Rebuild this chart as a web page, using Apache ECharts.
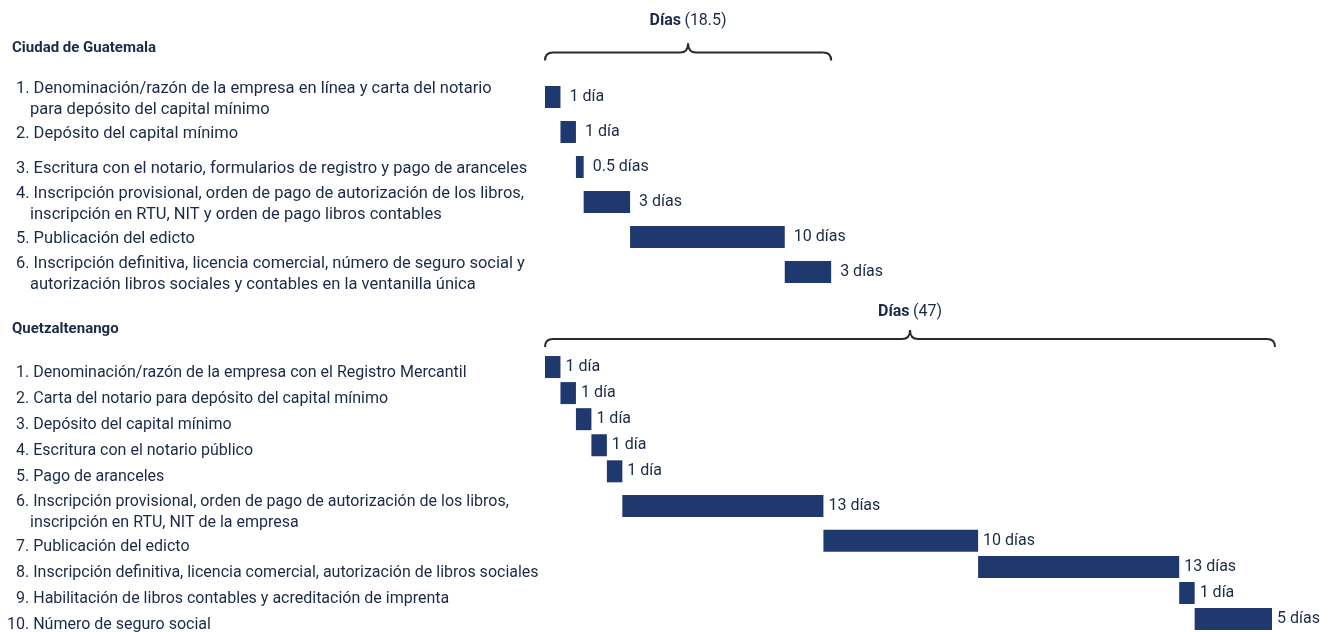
<!DOCTYPE html>
<html>
<head>
<meta charset="utf-8">
<script src="https://cdn.jsdelivr.net/npm/echarts@6/dist/echarts.min.js"></script>
<style>
html,body{margin:0;padding:0;background:#fff;}
#chart{width:1333px;height:632px;}
</style>
</head>
<body>
<div id="chart"></div>
<script>
// ---------- DATA ----------
const groupTitles = ['Ciudad de Guatemala', 'Quetzaltenango'];

const gtLabels = [
  'Denominación/razón de la empresa en línea y carta del notario\npara depósito del capital mínimo',
  'Depósito del capital mínimo',
  'Escritura con el notario, formularios de registro y pago de aranceles',
  'Inscripción provisional, orden de pago de autorización de los libros,\ninscripción en RTU, NIT y orden de pago libros contables',
  'Publicación del edicto',
  'Inscripción definitiva, licencia comercial, número de seguro social y\nautorización libros sociales y contables en la ventanilla única'
];
const gtDays = [1, 1, 0.5, 3, 10, 3];

const qzLabels = [
  'Denominación/razón de la empresa con el Registro Mercantil',
  'Carta del notario para depósito del capital mínimo',
  'Depósito del capital mínimo',
  'Escritura con el notario público',
  'Pago de aranceles',
  'Inscripción provisional, orden de pago de autorización de los libros,\ninscripción en RTU, NIT de la empresa',
  'Publicación del edicto',
  'Inscripción definitiva, licencia comercial, autorización de libros sociales',
  'Habilitación de libros contables y acreditación de imprenta',
  'Número de seguro social'
];
const qzDays = [1, 1, 1, 1, 1, 13, 10, 13, 1, 5];

const axisLabelWord = 'Días';
const unitOne = 'día';
const unitMany = 'días';

// ---------- STYLE ----------
const FONT = 'Roboto';
const FS = 16;
const TEXT = '#1b2a47';
const BAR = '#1f386d';
const BRACE = '#2a2a2a';
const SCALE_MAX = Math.max(gtDays.reduce((a,b)=>a+b,0), qzDays.reduce((a,b)=>a+b,0));

// Build slot rows: each step occupies `per` slots (label on middle),
// optional spacer slot before/after multi-line labels.
function buildRows(labels, days, per, spacer) {
  const slots = [];
  const base = [], vals = [];
  let cum = 0;
  labels.forEach((lab, i) => {
    const multi = lab.indexOf('\n') >= 0;
    if (spacer && multi) slots.push(null);
    const mid = Math.floor(per / 2);
    for (let k = 0; k < per; k++) {
      slots.push(k === mid ? { label: lab, idx: i, start: cum, d: days[i] } : null);
    }
    if (spacer && multi) slots.push(null);
    cum += days[i];
  });
  slots.forEach(s => {
    base.push(s ? s.start : '-');
    vals.push(s ? s.d : '-');
  });
  return { slots, base, vals, total: cum };
}

const gt = buildRows(gtLabels, gtDays, 1, false);
const qz = buildRows(qzLabels, qzDays, 3, true);

function richLabel(slot) {
  if (!slot) return '';
  const lines = slot.label.split('\n');
  const num = String(slot.idx + 1);
  let s = '{' + (num.length === 1 ? 'n1' : 'n2') + '|' + num + '.}{t|' + lines[0] + '}';
  for (let i = 1; i < lines.length; i++) s += '\n{c|' + lines[i] + '}';
  return s;
}

function makeRich(fs) {
  const b = { fontFamily: FONT, fontSize: fs, color: TEXT, lineHeight: 21 };
  return {
    n1: Object.assign({ padding: [0, 0, 0, Math.round(fs * 0.56) + 2] }, b),
    n2: Object.assign({ padding: [0, 0, 0, 2] }, b),
    t: Object.assign({ padding: [0, 0, 0, 4] }, b),
    c: Object.assign({ padding: [0, 0, 0, 25] }, b)
  };
}

const GRID_LEFT = 545, GRID_W = 727, LABEL_X = 5;

function yAxisFor(rows, gi, pad, fs) {
  return {
    type: 'category', gridIndex: gi, inverse: true,
    data: rows.slots.map((s, i) => 's' + i),
    axisLine: { show: false }, axisTick: { show: false }, splitLine: { show: false },
    axisLabel: {
      interval: 0, align: 'left', margin: GRID_LEFT - LABEL_X,
      padding: [pad, 0, 0, 0],
      formatter: (v, i) => richLabel(rows.slots[i]),
      rich: makeRich(fs)
    }
  };
}

function seriesFor(rows, gi, dist) {
  return [
    { type: 'bar', xAxisIndex: gi, yAxisIndex: gi, stack: 'g' + gi, data: rows.base,
      itemStyle: { color: 'transparent' }, barWidth: 22, silent: true },
    { type: 'bar', xAxisIndex: gi, yAxisIndex: gi, stack: 'g' + gi, data: rows.vals,
      itemStyle: { color: BAR }, barWidth: 22,
      label: { show: true, position: 'right', distance: dist, fontFamily: FONT, fontSize: FS, color: TEXT,
        formatter: p => p.value + ' ' + (p.value === 1 ? unitOne : unitMany) } }
  ];
}

const chart = echarts.init(document.getElementById('chart'), null, { renderer: 'canvas' });
const SLOT_Q = 8.69;
const option = {
  animation: false,
  backgroundColor: '#fff',
  grid: [
    { left: GRID_LEFT, width: GRID_W, top: 79.5, height: 35 * gt.slots.length, outerBoundsMode: 'none', containLabel: false },
    { left: GRID_LEFT, width: GRID_W, top: 354, height: SLOT_Q * qz.slots.length, outerBoundsMode: 'none', containLabel: false }
  ],
  xAxis: [
    { type: 'value', gridIndex: 0, min: 0, max: SCALE_MAX, show: false },
    { type: 'value', gridIndex: 1, min: 0, max: SCALE_MAX, show: false }
  ],
  yAxis: [yAxisFor(gt, 0, 4, 16.5), yAxisFor(qz, 1, 12, 16)],
  series: seriesFor(gt, 0, 9).concat(seriesFor(qz, 1, 5))
};
chart.setOption(option);

// ---------- braces & headers ----------
function brace(x0, x1, yLine, yTip, yEnd) {
  const xm = (x0 + x1) / 2, r = 8;
  const st = { stroke: BRACE, lineWidth: 2, fill: null };
  return [
    { type: 'bezierCurve', shape: { x1: x0, y1: yEnd, x2: x0 + r, y2: yLine, cpx1: x0, cpy1: yLine }, style: st },
    { type: 'line', shape: { x1: x0 + r, y1: yLine, x2: xm - r, y2: yLine }, style: st },
    { type: 'bezierCurve', shape: { x1: xm - r, y1: yLine, x2: xm, y2: yTip, cpx1: xm, cpy1: yLine }, style: st },
    { type: 'bezierCurve', shape: { x1: xm, y1: yTip, x2: xm + r, y2: yLine, cpx1: xm, cpy1: yLine }, style: st },
    { type: 'line', shape: { x1: xm + r, y1: yLine, x2: x1 - r, y2: yLine }, style: st },
    { type: 'bezierCurve', shape: { x1: x1 - r, y1: yLine, x2: x1, y2: yEnd, cpx1: x1, cpy1: yLine }, style: st }
  ];
}
function braceTitle(xm, y, total) {
  return {
    type: 'text', x: xm, y: y,
    style: {
      text: '{b|' + axisLabelWord + '} {r|(' + total + ')}',
      rich: {
        b: { fontFamily: FONT, fontSize: FS, fontWeight: 'bold', fill: TEXT },
        r: { fontFamily: FONT, fontSize: FS, fill: TEXT }
      },
      align: 'center', verticalAlign: 'middle'
    }
  };
}
const gx0 = chart.convertToPixel({ xAxisIndex: 0 }, 0);
const gx1 = chart.convertToPixel({ xAxisIndex: 0 }, gt.total);
const qx0 = chart.convertToPixel({ xAxisIndex: 1 }, 0);
const qx1 = chart.convertToPixel({ xAxisIndex: 1 }, qz.total);

const els = []
  .concat(brace(gx0, gx1, 52.5, 43.5, 60.5))
  .concat(brace(qx0, qx1 + 3, 339, 330, 347))
  .concat([
    braceTitle((gx0 + gx1) / 2, 21, gt.total),
    braceTitle((qx0 + qx1 + 3) / 2, 312, qz.total),
    { type: 'text', x: 12, y: 48, style: { text: groupTitles[0], fontFamily: FONT, fontSize: 15, fontWeight: 'bold', fill: TEXT, verticalAlign: 'middle' } },
    { type: 'text', x: 12, y: 329, style: { text: groupTitles[1], fontFamily: FONT, fontSize: 15, fontWeight: 'bold', fill: TEXT, verticalAlign: 'middle' } }
  ]);
chart.setOption({ graphic: { elements: els } });
</script>
</body>
</html>
